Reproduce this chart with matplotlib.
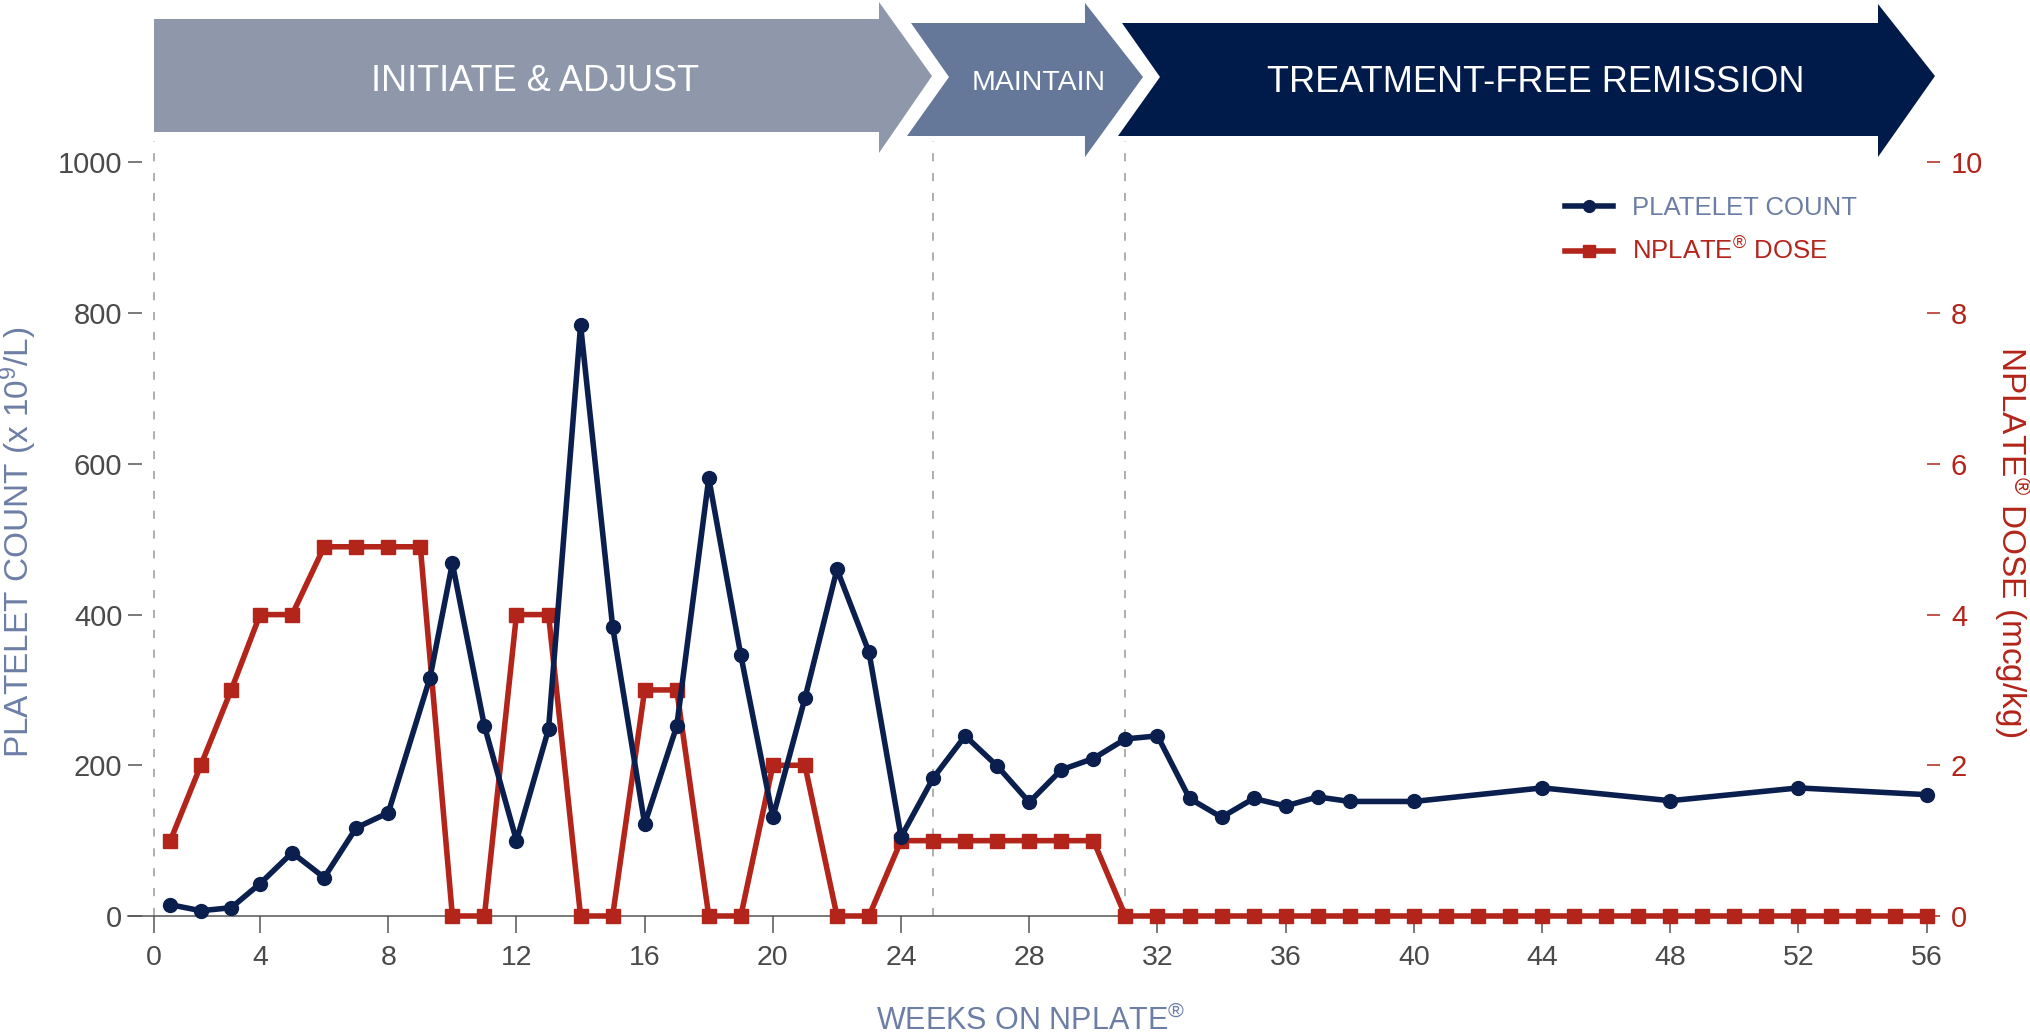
import matplotlib
matplotlib.use("Agg")
import matplotlib.pyplot as plt
from matplotlib.patches import Polygon

plt.rcParams['font.family'] = ['Liberation Sans', 'DejaVu Sans']
plt.rcParams['mathtext.fontset'] = 'custom'
plt.rcParams['mathtext.rm'] = 'Liberation Sans'
plt.rcParams['mathtext.it'] = 'Liberation Sans'
plt.rcParams['mathtext.bf'] = 'Liberation Sans:bold'

# ---------------- data ----------------
platelet_weeks = [1.2, 2.15, 3.1, 4, 5, 6, 7, 8, 9.3, 10, 11, 12, 13, 14, 15, 16, 17, 18,
                  19, 20, 21, 22, 23, 24, 25, 26, 27, 28, 29, 30, 31, 32, 33, 34, 35, 36,
                  37, 38, 40, 44, 48, 52, 56]
platelet_count = [15, 7, 11, 43, 84, 51, 117, 137, 316, 468, 252, 100, 248, 784, 384, 122, 252, 581,
                  346, 131, 289, 460, 350, 105, 183, 239, 199, 151, 194, 209, 235, 239, 156, 131, 156, 146,
                  158, 152, 152, 170, 153, 170, 161]

dose_weeks = [1.2, 2.15, 3.1, 4, 5, 6, 7, 8, 9, 10, 11, 12, 13, 14, 15, 16, 17, 18, 19, 20,
              21, 22, 23, 24, 25, 26, 27, 28, 29, 30] + list(range(31, 57))
dose_values = [1, 2, 3, 4, 4, 4.9, 4.9, 4.9, 4.9, 0, 0, 4, 4, 0, 0, 3, 3, 0, 0, 2,
               2, 0, 0, 1, 1, 1, 1, 1, 1, 1] + [0] * 26

phase_labels = ["INITIATE & ADJUST", "MAINTAIN", "TREATMENT-FREE REMISSION"]
phase_boundaries = [25, 31]
x_tick_values = list(range(4, 57, 4))
x_tick_labels = ["0"] + [str(v) for v in x_tick_values]
left_ticks = [0, 200, 400, 600, 800, 1000]
right_ticks = [0, 2, 4, 6, 8, 10]

# ---------------- style ----------------
NAVY = "#0B1F4E"
RED = "#B3241A"
GRAYBLUE = "#6C7EA5"
TICKGRAY = "#4A4A4A"
BAN1, BAN2, BAN3 = "#8F98AA", "#66789A", "#001A4A"

W, H = 2031, 1034
fig = plt.figure(figsize=(W / 100, H / 100), dpi=100)

# ---------------- banner (figure pixel coords) ----------------
bax = fig.add_axes([0, 0, 1, 1])
bax.set_xlim(0, W)
bax.set_ylim(H, 0)
bax.axis('off')
shapes = [
    ([(154, 19), (879, 19), (879, 2), (932, 76), (879, 153), (879, 132), (154, 132)], BAN1),
    ([(911, 23), (1085, 23), (1085, 3), (1143, 77), (1085, 157), (1085, 136), (907, 136), (949, 77)], BAN2),
    ([(1122, 23), (1878, 23), (1878, 4), (1935, 76), (1878, 157), (1878, 136), (1118, 136), (1160, 77)], BAN3),
]
for pts, col in shapes:
    bax.add_patch(Polygon(pts, closed=True, facecolor=col, edgecolor='none'))
banner_text = [(535, 91, 26), (1039, 90, 20.5), (1536, 91.5, 26)]
for lab, (tx, ty, fs) in zip(phase_labels, banner_text):
    bax.text(tx, ty, lab, color='white', fontsize=fs, ha='center', va='baseline')

# ---------------- main axes ----------------
x_start = 0.69
ax_d = fig.add_axes([128 / W, (H - 916) / H, 1805 / W, (916 - 141) / H])
ax_d.set_xlim(-0.121, 56.197)
ax_d.set_ylim(0, 10.285)
ax_d.patch.set_visible(False)
ax_p = ax_d.twinx()
ax_p.set_ylim(0, 1028.5)

for s in ['top', 'left', 'right']:
    ax_d.spines[s].set_visible(False)
for s in ['top', 'left', 'right', 'bottom']:
    ax_p.spines[s].set_visible(False)
ax_d.spines['bottom'].set_color('#555555')
ax_d.spines['bottom'].set_linewidth(1.1)

# dashed phase lines
for xv in [x_start] + phase_boundaries:
    ax_d.axvline(xv, color='#A8A8A8', lw=1.3, linestyle=(0, (4.5, 6.5)), zorder=1)

# dose (right axis)
dose_line, = ax_d.plot(dose_weeks, dose_values, color=RED, lw=4, marker='s', ms=9.5,
                       clip_on=False, zorder=3)
# platelets (left axis)
pl_line, = ax_p.plot(platelet_weeks, platelet_count, color=NAVY, lw=4, marker='o', ms=10,
                     clip_on=False, zorder=4)

# x axis
ax_d.set_xticks([x_start] + x_tick_values)
ax_d.set_xticklabels(x_tick_labels)
ax_d.tick_params(axis='x', direction='out', length=12, width=1.1, color='#555555',
                 labelsize=20.5, labelcolor=TICKGRAY, pad=9)

# right axis (dose)
ax_d.yaxis.tick_right()
ax_d.spines['right'].set_position(('data', 56.0))
ax_d.set_yticks(right_ticks)
ax_d.tick_params(axis='y', direction='out', length=9.5, width=1.1, color=RED,
                 labelsize=21, labelcolor=RED, pad=8)

# left axis (platelets)
ax_p.yaxis.tick_left()
ax_p.set_yticks(left_ticks)
ax_p.tick_params(axis='y', direction='in', length=10, width=1.1, color='#555555',
                 labelsize=21, labelcolor=TICKGRAY, pad=4)

# axis labels
fig.text(18 / W, 1 - 542 / H, r"PLATELET COUNT (x 10$^{\mathrm{9}}$/L)", rotation=90,
         ha='center', va='center', fontsize=24, color=GRAYBLUE)
fig.text(2012 / W, 1 - 542 / H, r"NPLATE$^{\mathrm{®}}$ DOSE (mcg/kg)", rotation=-90,
         ha='center', va='center', fontsize=24, color=RED)
fig.text(1031 / W, 1 - 1030 / H, r"WEEKS ON NPLATE$^{\mathrm{®}}$", ha='center',
         va='baseline', fontsize=22, color=GRAYBLUE)

# legend
ax_p.legend([pl_line, dose_line], ["PLATELET COUNT", r"NPLATE$^{\mathrm{®}}$ DOSE"],
            loc='upper left', bbox_to_anchor=(1565 / W, 1 - 196 / H),
            bbox_transform=fig.transFigure, frameon=False, fontsize=18.5,
            handlelength=1.87, handletextpad=0.74, labelspacing=0.68, borderpad=0,
            borderaxespad=0, markerscale=0.85, labelcolor=[GRAYBLUE, RED])

fig.savefig("out.png", dpi=100)
